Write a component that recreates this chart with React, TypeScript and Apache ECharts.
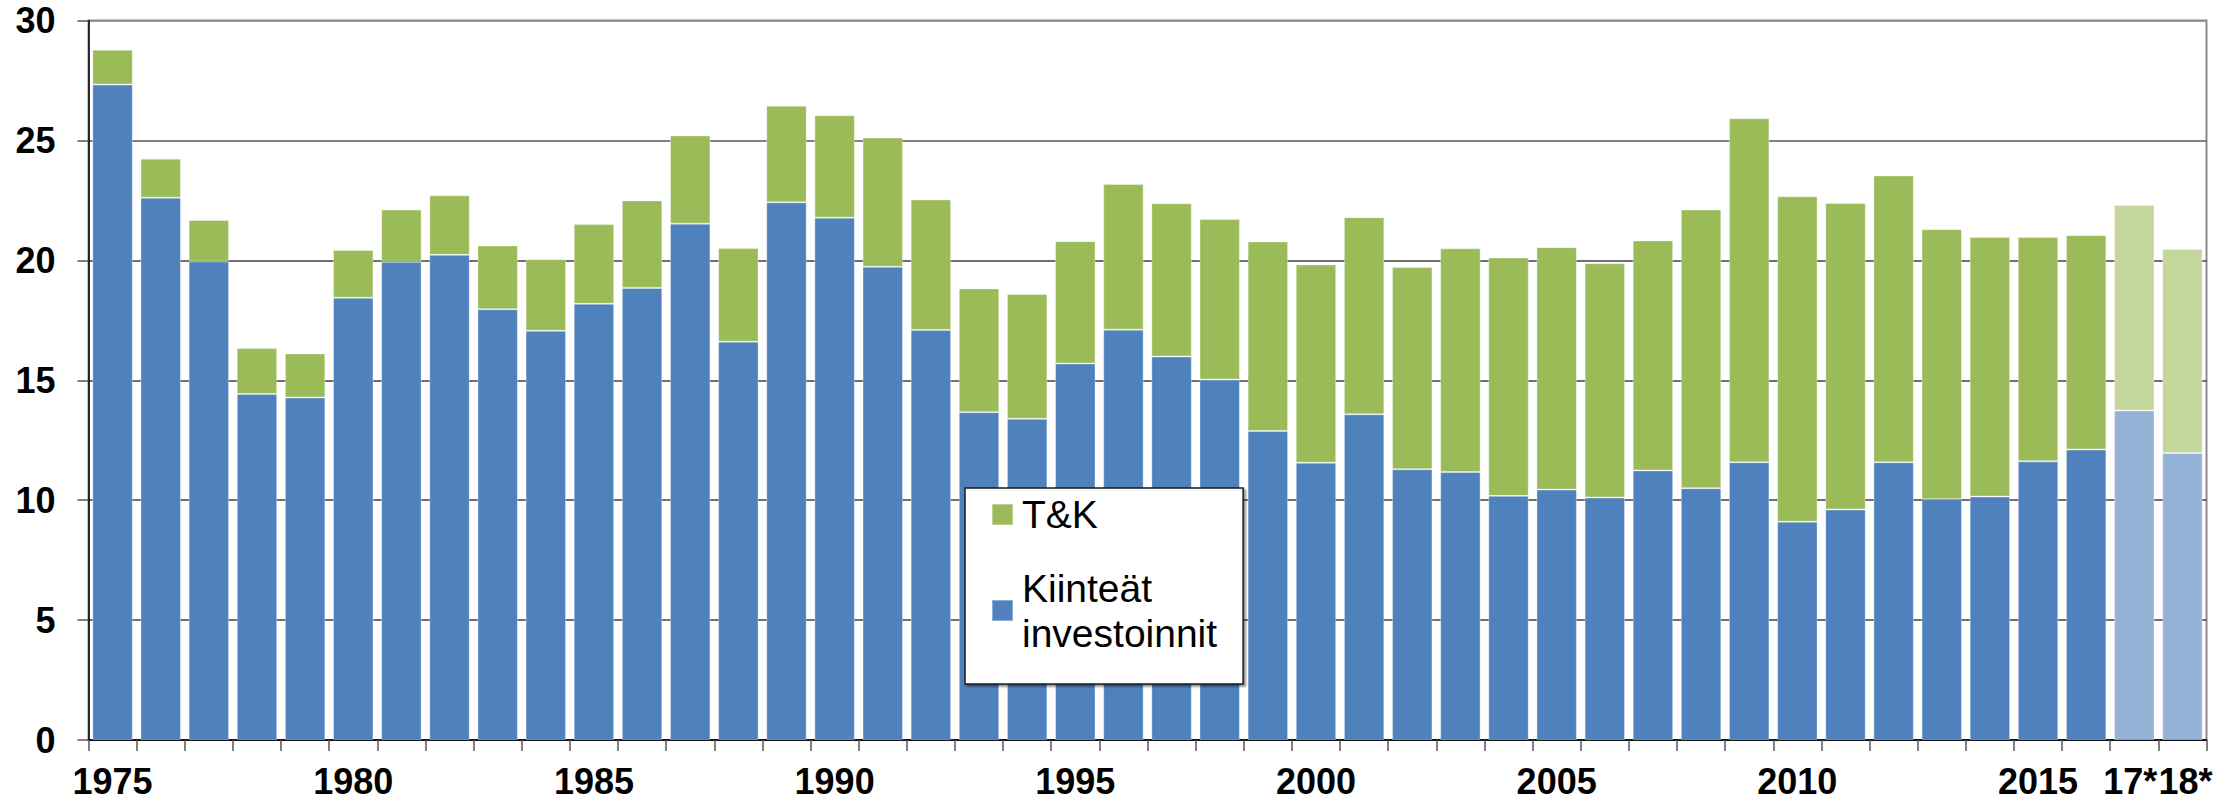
import React, { useEffect, useRef } from "react";
import * as echarts from "echarts";

const categories = [
  "1975", "1976", "1977", "1978", "1979", "1980", "1981", "1982", "1983", "1984",
  "1985", "1986", "1987", "1988", "1989", "1990", "1991", "1992", "1993", "1994",
  "1995", "1996", "1997", "1998", "1999", "2000", "2001", "2002", "2003", "2004",
  "2005", "2006", "2007", "2008", "2009", "2010", "2011", "2012", "2013", "2014",
  "2015", "2016", "17*", "18*",
];

// Kiinteät investoinnit (fixed investment)
const fixedInvestment = [
  27.33, 22.61, 19.95, 14.43, 14.28, 18.44, 19.94, 20.23, 17.96, 17.06,
  18.19, 18.85, 21.53, 16.61, 22.42, 21.78, 19.73, 17.10, 13.67, 13.39,
  15.70, 17.11, 15.99, 15.03, 12.88, 11.56, 13.58, 11.29, 11.17, 10.18,
  10.44, 10.11, 11.24, 10.50, 11.58, 9.10, 9.61, 11.58, 10.04, 10.15,
  11.62, 12.11, 13.74, 11.97,
];

// T&K (R&D)
const rnd = [
  1.45, 1.63, 1.73, 1.91, 1.84, 1.99, 2.18, 2.48, 2.66, 2.99,
  3.32, 3.65, 3.68, 3.90, 4.03, 4.27, 5.39, 5.44, 5.16, 5.21,
  5.10, 6.07, 6.39, 6.69, 7.91, 8.27, 8.22, 8.43, 9.33, 9.94,
  10.11, 9.77, 9.59, 11.62, 14.34, 13.57, 12.78, 11.96, 11.26, 10.82,
  9.35, 8.94, 8.57, 8.50,
];

const yTicks = [0, 5, 10, 15, 20, 25, 30];

const SERIES_FIXED = "Kiinteät investoinnit";
const SERIES_RND = "T&K";

const BLUE = "#4f81bd";
const GREEN = "#9bbb59";
const BLUE_LIGHT = "#95b3d7";
const GREEN_LIGHT = "#c3d69b";

const FONT = "'Liberation Sans', Arial, sans-serif";

export default function App() {
  const ref = useRef<HTMLDivElement>(null);

  useEffect(() => {
    if (!ref.current) return;
    const chart = echarts.init(ref.current, undefined, { renderer: "svg" });

    const isForecast = (i: number) => categories[i].indexOf("*") >= 0;
    const firstForecast = categories.findIndex((c) => c.indexOf("*") >= 0);
    const lastIndex = categories.length - 1;

    const fixedData = fixedInvestment.map((v, i) => ({
      value: v,
      itemStyle: { color: isForecast(i) ? BLUE_LIGHT : BLUE },
    }));
    const rndData = rnd.map((v, i) => ({
      value: v,
      itemStyle: { color: isForecast(i) ? GREEN_LIGHT : GREEN },
    }));

    const fontStyle = {
      fontSize: 36,
      fontWeight: "bold",
      fontFamily: FONT,
      color: "#000000",
      lineHeight: 30,
    };

    const option: any = {
      animation: false,
      backgroundColor: "#ffffff",
      grid: {
        left: 88.5,
        right: 29.5,
        top: 20.5,
        bottom: 61,
        show: true,
        borderColor: "#8c8c8c",
        borderWidth: 2,
        backgroundColor: "transparent",
      },
      legend: {
        orient: "vertical",
        left: 965,
        top: 488,
        padding: [4, 26, 6, 26],
        itemWidth: 21,
        itemHeight: 21,
        itemGap: 6,
        backgroundColor: "#ffffff",
        borderColor: "#1a1a1a",
        borderWidth: 1.5,
        shadowColor: "rgba(0,0,0,0.45)",
        shadowBlur: 2,
        shadowOffsetX: 2,
        shadowOffsetY: 2,
        selectedMode: false,
        formatter: (name: string) =>
          name === SERIES_FIXED ? "Kiinteät\ninvestoinnit" : name,
        textStyle: {
          fontSize: 39,
          fontFamily: FONT,
          color: "#000000",
          lineHeight: 45,
          padding: [0, 0, 0, 4],
        },
        data: [
          { name: SERIES_RND, icon: "rect" },
          {
            name: SERIES_FIXED,
            icon: "rect",
            textStyle: {
              fontSize: 39,
              fontFamily: FONT,
              color: "#000000",
              lineHeight: 45,
              padding: [45, 0, 0, 4],
            },
          },
        ],
      },
      xAxis: [
        {
          type: "category",
          data: categories,
          boundaryGap: true,
          axisLine: { show: true, lineStyle: { color: "#000000", width: 1.5 } },
          axisTick: {
            show: true,
            alignWithLabel: false,
            interval: 0,
            length: 11,
            lineStyle: { color: "#555555", width: 1.5 },
          },
          axisLabel: {
            ...fontStyle,
            margin: 26,
            interval: (index: number) =>
              (index % 5 === 0 && index < firstForecast) || index === lastIndex,
            showMaxLabel: true,
            formatter: (v: string) => (v === categories[lastIndex] ? "{f|" + v + "}" : v),
            rich: {
              f: { ...fontStyle, padding: [0, 0, 0, 6] },
            },
          },
          splitLine: { show: false },
        },
        {
          // separate label row for the first forecast year, which nearly touches the last one
          type: "category",
          data: categories,
          boundaryGap: true,
          position: "bottom",
          axisLine: { show: false },
          axisTick: { show: false },
          splitLine: { show: false },
          axisLabel: {
            ...fontStyle,
            margin: 26,
            padding: [0, 8, 0, 0],
            interval: (index: number) => index === firstForecast,
          },
        },
      ],
      yAxis: {
        type: "value",
        min: yTicks[0],
        max: yTicks[yTicks.length - 1],
        interval: yTicks[1] - yTicks[0],
        axisLine: { show: true, lineStyle: { color: "#000000", width: 1.5 } },
        axisTick: {
          show: true,
          length: 11,
          lineStyle: { color: "#555555", width: 1.5 },
        },
        axisLabel: {
          margin: 33,
          fontSize: 36,
          fontWeight: "bold",
          fontFamily: FONT,
          color: "#000000",
        },
        splitLine: {
          show: true,
          lineStyle: {
            color: ["#404040", "#404040", "#404040", "#404040", "#404040", "#595959", "#8c8c8c"],
            width: 1.5,
          },
        },
      },
      series: [
        {
          name: SERIES_FIXED,
          type: "bar",
          stack: "total",
          xAxisIndex: 0,
          barCategoryGap: "16%",
          itemStyle: { color: BLUE, borderColor: "rgba(255,255,255,0.35)", borderWidth: 1 },
          data: fixedData,
        },
        {
          name: SERIES_RND,
          type: "bar",
          stack: "total",
          xAxisIndex: 0,
          barCategoryGap: "16%",
          itemStyle: { color: GREEN, borderColor: "rgba(255,255,255,0.35)", borderWidth: 1 },
          data: rndData,
        },
      ],
    };

    chart.setOption(option);
    return () => {
      chart.dispose();
    };
  }, []);

  return (
    <div
      ref={ref}
      style={{ position: "absolute", left: 0, top: 0, width: 2236, height: 801 }}
    />
  );
}
